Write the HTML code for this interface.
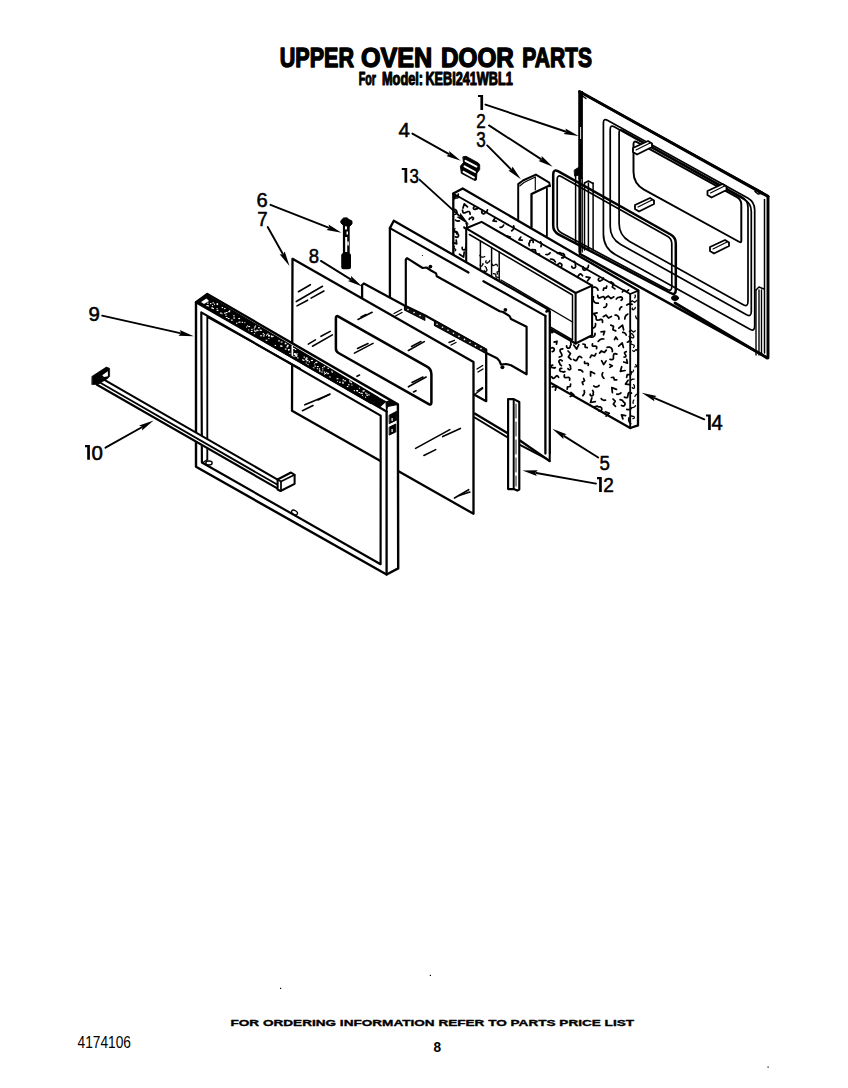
<!DOCTYPE html>
<html><head><meta charset="utf-8"><style>
html,body{margin:0;padding:0;background:#fff;}
body{width:848px;height:1088px;overflow:hidden;position:relative;}
svg{position:absolute;left:0;top:0;}
text{font-family:"Liberation Sans",sans-serif;fill:#000;}
</style></head><body>
<svg width="848" height="1088" viewBox="0 0 848 1088" stroke="#000" stroke-linecap="round" stroke-linejoin="round" fill="none">
<g id="p1">
<polygon points="580.0,92.0 768.0,196.0 768.0,358.0 580.0,254.0" fill="#fff" stroke="#000" stroke-width="2.53"/>
<rect x="578.3" y="91" width="4.6" height="88" fill="#000" stroke="none"/>
<rect x="580.2" y="127" width="0.9" height="12" fill="#fff" stroke="none"/>
<line x1="575.6" y1="170.0" x2="575.6" y2="243.0" stroke-width="1.49"/>
<line x1="579.3" y1="178.0" x2="579.3" y2="252.0" stroke-width="1.61"/>
<line x1="582.2" y1="178.0" x2="582.2" y2="252.0" stroke-width="1.38"/>
<polygon points="574.5,170.0 578.5,167.5 579.0,175.0 575.0,176.0" fill="#000" stroke="#000" stroke-width="0.92"/>
<line x1="579.5" y1="91.5" x2="768.0" y2="196.5" stroke-width="2.88"/>
<polyline points="582.5,96.0 586.0,98.5" stroke-width="1.38" fill="none"/>
<line x1="768.0" y1="196.5" x2="768.0" y2="358.0" stroke-width="2.53"/>
<line x1="764.5" y1="199.5" x2="764.5" y2="353.0" stroke-width="1.49"/>
<line x1="767.0" y1="358.0" x2="675.0" y2="303.0" stroke-width="2.76"/>
<polyline points="755.0,191.5 758.0,194.0 761.0,193.5" stroke-width="1.61" fill="none"/>
<path d="M603.4,123.0 Q603.4,118.0 607.8,120.4 L747.7,198.1 Q754.7,202.0 754.7,210.0 L754.7,326.0 Q754.7,332.0 749.5,329.1 L615.6,254.8 Q603.4,248.0 603.4,234.0 Z" stroke-width="1.72" fill="none"/>
<path d="M610.2,129.5 Q610.2,124.5 614.6,126.9 L744.3,199.6 Q751.3,203.5 751.3,211.5 L751.3,311.5 Q751.3,317.5 746.1,314.6 L620.7,244.4 Q610.2,238.5 610.2,226.5 Z" stroke-width="1.72" fill="none"/>
<path d="M619.1,132.5 Q619.1,128.5 622.6,130.5 L741.9,197.1 Q748.0,200.5 748.0,207.5 L748.0,301.5 Q748.0,307.5 742.8,304.6 L629.6,241.4 Q619.1,235.5 619.1,223.5 Z" stroke-width="1.72" fill="none"/>
<path d="M633.5,144.3 Q633.5,140.3 637.0,142.2 L736.9,197.1 Q741.3,199.5 741.3,204.5 L741.3,241.0 Q741.3,243.0 739.5,242.0 L644.0,189.6 Q633.5,183.8 633.5,171.8 Z" stroke-width="1.95" fill="none"/>
<polygon points="633.0,148.0 648.0,141.0 652.0,143.5 652.0,147.0 637.0,154.5 633.0,152.0" fill="#fff" stroke="#000" stroke-width="1.84"/>
<line x1="636.0" y1="150.0" x2="650.0" y2="143.0" stroke-width="1.15"/>
<polygon points="707.5,191.0 722.5,184.0 726.5,186.5 726.5,190.0 711.5,197.5 707.5,195.0" fill="#fff" stroke="#000" stroke-width="1.84"/>
<line x1="710.5" y1="193.0" x2="724.5" y2="186.0" stroke-width="1.15"/>
<polygon points="635.0,205.0 650.0,198.0 654.0,200.5 654.0,204.0 639.0,211.5 635.0,209.0" fill="#fff" stroke="#000" stroke-width="1.84"/>
<line x1="638.0" y1="207.0" x2="652.0" y2="200.0" stroke-width="1.15"/>
<polygon points="710.0,247.0 725.0,240.0 729.0,242.5 729.0,246.0 714.0,253.5 710.0,251.0" fill="#fff" stroke="#000" stroke-width="1.84"/>
<line x1="713.0" y1="249.0" x2="727.0" y2="242.0" stroke-width="1.15"/>
<line x1="584.5" y1="183.0" x2="584.5" y2="250.0" stroke-width="1.49"/>
<line x1="588.4" y1="183.0" x2="588.4" y2="250.0" stroke-width="1.49"/>
<line x1="593.1" y1="183.0" x2="593.1" y2="250.0" stroke-width="1.49"/>
<polyline points="584.5,183.0 588.4,181.0 593.1,183.5" stroke-width="1.49" fill="none"/>
<line x1="756.0" y1="290.0" x2="756.0" y2="355.0" stroke-width="1.38"/>
<line x1="759.0" y1="290.0" x2="759.0" y2="355.0" stroke-width="1.38"/>
<line x1="761.5" y1="290.0" x2="761.5" y2="355.0" stroke-width="1.38"/>
<polyline points="756.0,290.0 759.0,287.0 764.0,289.0" stroke-width="1.49" fill="none"/>
</g>
<g id="p2">
<path d="M553.2,174.5 Q553.2,168.5 558.4,171.4 L670.6,234.5 Q675.8,237.4 675.8,243.4 L675.8,289.8 Q675.8,295.8 670.5,293.0 L558.5,234.3 Q553.2,231.5 553.2,225.5 Z" stroke-width="2.53" fill="none"/>
<path d="M557.2,179.3 Q557.2,174.3 561.6,176.8 L667.4,236.3 Q671.8,238.8 671.8,243.8 L671.8,286.8 Q671.8,291.8 667.4,289.5 L561.6,233.1 Q557.2,230.8 557.2,225.8 Z" stroke-width="1.72" fill="none"/>
<ellipse cx="675" cy="298" rx="3.5" ry="2.5" fill="#000"/>
</g>
<polygon points="518.2,222.0 518.2,184.1 523.0,180.5 535.9,174.6 549.3,182.6 549.9,186.3 546.9,188.5 546.9,236.0 531.5,227.0 531.5,222.0" fill="#fff" stroke="none" stroke-width="0.00"/>
<polyline points="518.2,221.0 518.2,184.1 523.0,180.5 535.9,174.6 549.3,182.6 549.9,186.3" stroke-width="1.95" fill="none"/>
<polyline points="519.7,186.0 524.0,182.5 535.3,177.0" stroke-width="1.15" fill="none"/>
<line x1="535.3" y1="177.0" x2="535.3" y2="190.0" stroke-width="1.15"/>
<polyline points="531.5,227.0 531.5,194.0 549.5,185.5" stroke-width="2.30" fill="none"/>
<line x1="546.9" y1="188.5" x2="546.9" y2="236.0" stroke-width="1.84"/>
<polygon points="463.2,156.8 466.0,156.3 478.3,162.9 479.7,164.8 479.7,169.5 476.9,173.3 476.4,179.9 475.0,180.6 461.3,173.3 460.4,166.2 463.2,162.9" fill="#000" stroke="#000" stroke-width="0.92"/>
<line x1="465.5" y1="160.8" x2="476.5" y2="166.6" stroke="#fff" stroke-width="1.9"/>
<line x1="464.5" y1="166.3" x2="475" y2="172" stroke="#fff" stroke-width="1.9"/>
<line x1="463.5" y1="171.8" x2="474" y2="177.6" stroke="#fff" stroke-width="1.9"/>
<g id="p14">
<polygon points="453.3,193.6 462.7,188.5 638.4,290.6 638.0,425.4 630.2,428.0 456.2,329.3 453.3,327.6" fill="#fff" stroke="none" stroke-width="0.00"/>
<path d="M632.1,304.3 L630.2,303.8 L628.5,304.1 L626.8,305.1" stroke-width="1.72" fill="none"/>
<path d="M603.2,316.7 L606.1,315.1 L608.5,318.0 L611.4,316.5" stroke-width="1.72" fill="none"/>
<path d="M590.1,394.2 L590.5,395.4 L591.6,395.9 L592.7,395.6 L593.4,394.6 L593.1,393.4 L593.5,392.1 L592.6,390.4" stroke-width="1.72" fill="none"/>
<path d="M615.7,330.9 L612.9,329.7 L613.5,326.3 L610.8,325.1" stroke-width="1.72" fill="none"/>
<path d="M455.5,220.1 L456.7,220.9 L458.0,221.2 L459.4,220.9" stroke-width="1.72" fill="none"/>
<path d="M621.5,405.4 L622.9,406.1 L624.4,405.6 L625.1,404.2 L624.7,402.7 L623.4,401.9 L622.4,400.3 L620.1,399.7" stroke-width="1.72" fill="none"/>
<path d="M630.1,384.6 L625.5,384.1 L628.1,380.3" stroke-width="1.72" fill="none"/>
<path d="M627.8,314.1 L626.1,315.3 L625.1,316.9 L624.8,319.0" stroke-width="1.72" fill="none"/>
<path d="M614.5,339.6 L615.8,337.0 L617.5,339.4" stroke-width="1.72" fill="none"/>
<path d="M561.5,266.5 L561.9,265.0 L561.2,263.7 L559.8,263.1 L558.4,263.7 L557.8,265.1 L556.4,266.2 L556.2,268.6" stroke-width="1.72" fill="none"/>
<path d="M626.3,351.7 L625.2,352.0 L624.6,352.6 L624.6,353.4 L625.2,354.4 L625.8,355.4 L625.9,356.3 L625.3,356.8 L624.1,357.1" stroke-width="1.72" fill="none"/>
<path d="M597.7,295.4 L598.0,297.0 L598.6,297.9 L599.8,297.9 L601.2,297.3 L602.7,296.7 L603.8,296.7 L604.5,297.7 L604.7,299.2" stroke-width="1.72" fill="none"/>
<path d="M603.9,339.0 L601.6,338.9 L599.8,339.8 L598.2,341.4" stroke-width="1.72" fill="none"/>
<path d="M610.0,359.3 L611.7,359.7 L612.9,359.5 L613.4,358.4 L613.4,356.7 L613.5,355.0 L614.0,353.9 L615.2,353.7 L616.9,354.1" stroke-width="1.72" fill="none"/>
<path d="M606.6,303.8 L606.7,304.7 L606.5,305.6 L606.1,306.3 L605.5,307.0 L604.7,307.4 L603.8,307.5" stroke-width="1.72" fill="none"/>
<path d="M599.1,385.5 L598.3,386.2 L597.4,386.7 L596.5,386.9 L595.4,386.9 L594.5,386.5 L593.7,385.9" stroke-width="1.72" fill="none"/>
<path d="M482.4,210.5 L481.7,211.7 L482.0,213.0 L483.1,213.8 L484.4,213.6 L485.3,212.5 L486.7,211.9 L487.5,209.9" stroke-width="1.72" fill="none"/>
<path d="M522.2,240.1 L519.0,239.8 L520.8,237.1" stroke-width="1.72" fill="none"/>
<path d="M595.5,323.5 L595.6,324.8 L595.3,326.1 L594.6,327.2 L593.5,327.9 L592.2,328.3 L590.9,328.2" stroke-width="1.72" fill="none"/>
<path d="M605.3,411.8 L609.3,413.2 L606.1,416.1" stroke-width="1.72" fill="none"/>
<path d="M582.8,395.6 L584.0,394.1 L584.5,392.4 L584.2,390.5" stroke-width="1.72" fill="none"/>
<path d="M472.7,219.6 L473.4,218.9 L473.4,217.9 L472.7,217.3 L471.8,217.2 L471.1,217.8 L470.0,218.0 L469.2,219.3" stroke-width="1.72" fill="none"/>
<path d="M599.6,353.1 L601.4,350.9 L604.4,352.4 L606.3,350.1" stroke-width="1.72" fill="none"/>
<path d="M622.3,292.0 L624.1,290.2 L626.7,291.8 L628.6,289.9" stroke-width="1.72" fill="none"/>
<path d="M616.8,394.1 L618.3,394.3 L619.7,393.8 L620.9,392.8" stroke-width="1.72" fill="none"/>
<path d="M601.1,331.9 L604.7,331.3 L603.5,334.8" stroke-width="1.72" fill="none"/>
<path d="M581.7,357.7 L580.4,356.6 L579.3,356.3 L578.3,357.1 L577.6,358.5 L576.8,360.0 L575.9,360.7 L574.8,360.4 L573.5,359.4" stroke-width="1.72" fill="none"/>
<path d="M603.3,290.2 L603.8,288.2 L606.2,288.2 L606.7,286.2" stroke-width="1.72" fill="none"/>
<path d="M615.5,406.4 L613.3,404.2 L615.2,401.2 L613.0,399.0" stroke-width="1.72" fill="none"/>
<path d="M540.9,246.6 L541.5,245.0 L541.4,243.3 L540.6,241.8" stroke-width="1.72" fill="none"/>
<path d="M545.9,254.5 L547.5,254.6 L548.9,254.0 L550.1,252.9" stroke-width="1.72" fill="none"/>
<path d="M590.6,376.0 L590.6,371.5 L594.6,373.6" stroke-width="1.72" fill="none"/>
<path d="M587.3,347.7 L585.1,347.1 L585.1,344.5 L582.9,344.0" stroke-width="1.72" fill="none"/>
<path d="M607.1,347.4 L608.5,347.0 L609.8,347.2 L611.0,347.8 L611.9,348.9 L612.4,350.2 L612.3,351.6" stroke-width="1.72" fill="none"/>
<path d="M566.6,345.8 L566.7,347.2 L567.7,348.2 L569.1,348.2 L570.1,347.3 L570.2,345.9 L571.1,344.6 L570.7,342.4" stroke-width="1.72" fill="none"/>
<path d="M582.8,371.9 L581.7,370.6 L580.4,369.9 L578.7,369.8" stroke-width="1.72" fill="none"/>
<path d="M464.0,227.0 L464.4,228.1 L465.4,228.6 L466.4,228.3 L467.0,227.3 L466.7,226.2 L467.1,225.0 L466.2,223.5" stroke-width="1.72" fill="none"/>
<path d="M586.1,276.9 L590.0,277.7 L587.5,280.8" stroke-width="1.72" fill="none"/>
<path d="M604.0,378.3 L603.2,377.6 L602.6,376.7 L602.2,375.7 L602.1,374.7 L602.3,373.6 L602.8,372.7" stroke-width="1.72" fill="none"/>
<path d="M456.2,240.0 L456.7,243.9 L452.9,242.5" stroke-width="1.72" fill="none"/>
<path d="M622.7,332.3 L623.4,332.4 L624.2,332.7 L624.9,333.1 L625.4,333.7 L625.9,334.3 L626.2,335.0" stroke-width="1.72" fill="none"/>
<path d="M582.5,275.8 L581.5,274.5 L580.6,273.9 L579.5,274.4 L578.5,275.6 L577.4,276.8 L576.4,277.3 L575.4,276.7 L574.5,275.4" stroke-width="1.72" fill="none"/>
<path d="M578.8,344.6 L576.6,349.0 L573.7,345.1" stroke-width="1.72" fill="none"/>
<path d="M609.7,364.4 L612.3,365.8 L609.8,367.4" stroke-width="1.72" fill="none"/>
<path d="M621.1,300.3 L622.2,299.5 L622.4,298.2 L621.7,297.1 L620.4,296.8 L619.2,297.4 L617.7,297.5 L616.3,299.0" stroke-width="1.72" fill="none"/>
<path d="M552.7,365.1 L551.7,365.3 L551.1,366.0 L551.2,367.0 L551.9,367.7 L552.9,367.6 L553.9,368.1 L555.3,367.6" stroke-width="1.72" fill="none"/>
<path d="M615.1,315.1 L616.2,315.1 L617.2,315.5 L618.0,316.2 L618.6,317.1 L619.0,318.2 L618.9,319.2" stroke-width="1.72" fill="none"/>
<path d="M595.9,316.4 L593.6,313.7 L597.1,312.9" stroke-width="1.72" fill="none"/>
<path d="M622.9,418.9 L621.5,414.9 L625.6,415.6" stroke-width="1.72" fill="none"/>
<path d="M454.4,209.3 L455.1,209.5 L455.7,209.8 L456.2,210.3 L456.6,210.9 L456.8,211.5 L456.8,212.2" stroke-width="1.72" fill="none"/>
<path d="M612.4,392.6 L611.8,387.6 L616.5,389.4" stroke-width="1.72" fill="none"/>
<path d="M599.1,411.1 L600.8,410.9 L601.8,409.6 L601.6,407.9 L600.4,406.9 L598.7,406.9 L597.1,406.1 L594.6,406.9" stroke-width="1.72" fill="none"/>
<path d="M474.4,206.7 L473.6,207.4 L473.4,208.4 L474.0,209.2 L475.1,209.4 L475.9,208.9 L477.1,208.8 L478.2,207.6" stroke-width="1.72" fill="none"/>
<path d="M496.5,221.4 L493.0,220.9 L495.1,218.0" stroke-width="1.72" fill="none"/>
<path d="M606.1,360.9 L603.7,364.6 L601.6,360.7" stroke-width="1.72" fill="none"/>
<path d="M552.2,351.6 L553.6,351.2 L554.3,349.9 L554.0,348.5 L552.8,347.7 L551.4,348.0 L549.8,347.5 L547.8,348.5" stroke-width="1.72" fill="none"/>
<path d="M571.7,266.3 L572.3,267.7 L573.7,268.2 L575.1,267.7 L575.7,266.4 L575.3,264.9 L575.6,263.3 L574.2,261.3" stroke-width="1.72" fill="none"/>
<path d="M588.2,365.4 L588.4,364.3 L588.2,363.6 L587.5,363.4 L586.4,363.4 L585.4,363.5 L584.7,363.3 L584.5,362.6 L584.6,361.5" stroke-width="1.72" fill="none"/>
<path d="M568.0,368.6 L568.5,369.5 L569.5,369.8 L570.5,369.3 L570.8,368.3 L570.4,367.3 L570.5,366.1 L569.5,364.8" stroke-width="1.72" fill="none"/>
<path d="M533.2,242.5 L533.2,241.2 L532.3,240.2 L530.9,240.1 L529.9,241.0 L529.8,242.3 L528.9,243.6 L529.3,245.7" stroke-width="1.72" fill="none"/>
<path d="M555.0,330.6 L551.9,332.7 L551.4,329.0" stroke-width="1.72" fill="none"/>
<path d="M601.2,398.6 L602.4,399.8 L603.8,400.3 L605.5,400.1" stroke-width="1.72" fill="none"/>
<path d="M583.6,378.5 L584.5,380.7 L582.2,382.3 L583.1,384.5" stroke-width="1.72" fill="none"/>
<path d="M500.1,227.4 L501.6,227.2 L502.8,226.4 L503.6,225.1" stroke-width="1.72" fill="none"/>
<path d="M569.6,380.1 L569.7,378.6 L569.4,377.7 L568.4,377.3 L567.0,377.5 L565.5,377.7 L564.5,377.3 L564.2,376.4 L564.4,374.9" stroke-width="1.72" fill="none"/>
<path d="M464.2,252.1 L463.6,257.1 L459.5,254.2" stroke-width="1.72" fill="none"/>
<path d="M631.4,371.9 L630.6,374.7 L627.3,374.5 L626.6,377.3" stroke-width="1.72" fill="none"/>
<path d="M554.1,342.1 L557.0,341.2 L556.5,344.2" stroke-width="1.72" fill="none"/>
<path d="M618.7,346.2 L622.2,342.9 L623.4,347.5" stroke-width="1.72" fill="none"/>
<path d="M455.3,236.8 L456.6,237.4 L458.0,236.9 L458.6,235.6 L458.2,234.2 L456.9,233.5 L456.0,232.1 L453.8,231.6" stroke-width="1.72" fill="none"/>
<path d="M561.7,257.9 L563.4,257.8 L564.5,256.5 L564.4,254.9 L563.3,253.7 L561.6,253.6 L560.0,252.7 L557.5,253.3" stroke-width="1.72" fill="none"/>
<path d="M562.8,348.8 L561.0,349.2 L560.1,350.0 L560.1,351.3 L561.0,352.9 L561.8,354.5 L561.9,355.7 L560.9,356.5 L559.2,357.0" stroke-width="1.72" fill="none"/>
<path d="M558.6,377.4 L557.9,376.2 L557.1,375.7 L556.2,376.1 L555.2,377.1 L554.2,378.0 L553.3,378.4 L552.5,377.9 L551.7,376.7" stroke-width="1.72" fill="none"/>
<path d="M595.0,333.4 L595.0,334.7 L594.4,335.9 L593.4,336.7 L592.1,337.2 L590.8,337.1 L589.6,336.5" stroke-width="1.72" fill="none"/>
<path d="M616.7,379.8 L614.4,379.9 L613.7,377.4 L611.4,377.5" stroke-width="1.72" fill="none"/>
<path d="M591.4,288.4 L592.5,287.5 L593.9,287.1 L595.2,287.2 L596.5,287.8 L597.5,288.8 L598.0,290.1" stroke-width="1.72" fill="none"/>
<path d="M506.5,235.9 L510.3,237.0 L507.5,239.8" stroke-width="1.72" fill="none"/>
<path d="M590.2,357.6 L591.5,355.2 L594.6,356.0 L595.9,353.6" stroke-width="1.72" fill="none"/>
<path d="M463.0,208.1 L464.3,203.8 L467.5,206.9" stroke-width="1.72" fill="none"/>
<path d="M626.7,359.3 L627.4,363.1 L623.7,362.0" stroke-width="1.72" fill="none"/>
<path d="M513.7,225.9 L513.9,226.9 L513.8,227.8 L513.6,228.7 L513.1,229.5 L512.5,230.2 L511.7,230.8" stroke-width="1.72" fill="none"/>
<path d="M552.3,386.9 L556.5,386.0 L555.3,390.2" stroke-width="1.72" fill="none"/>
<path d="M598.3,303.2 L596.7,303.2 L595.1,302.6 L593.9,301.5 L593.2,300.0 L593.1,298.3 L593.5,296.8" stroke-width="1.72" fill="none"/>
<path d="M595.3,401.6 L590.5,402.5 L591.9,397.8" stroke-width="1.72" fill="none"/>
<path d="M567.2,389.2 L567.5,386.8 L570.3,386.5 L570.6,384.1" stroke-width="1.72" fill="none"/>
<path d="M629.0,417.8 L628.7,420.0 L629.3,422.0 L630.7,423.7" stroke-width="1.72" fill="none"/>
<path d="M570.9,392.5 L573.9,395.0 L570.2,396.5" stroke-width="1.72" fill="none"/>
<path d="M625.1,370.5 L620.3,371.4 L621.7,366.7" stroke-width="1.72" fill="none"/>
<path d="M599.0,278.3 L598.3,279.2 L598.5,280.4 L599.4,281.1 L600.6,281.0 L601.4,280.2 L602.6,279.7 L603.4,278.0" stroke-width="1.72" fill="none"/>
<path d="M571.0,359.4 L568.4,357.0 L570.5,353.5 L568.0,351.0" stroke-width="1.72" fill="none"/>
<path d="M583.2,266.9 L582.7,268.3 L583.2,269.7 L584.6,270.3 L586.0,269.8 L586.7,268.5 L588.1,267.6 L588.5,265.3" stroke-width="1.72" fill="none"/>
<path d="M621.8,306.8 L620.6,307.5 L619.9,308.5 L619.6,309.8" stroke-width="1.72" fill="none"/>
<path d="M454.6,198.7 L455.1,196.4 L457.8,196.5 L458.3,194.2" stroke-width="1.72" fill="none"/>
<path d="M624.4,397.1 L625.9,397.7 L627.1,397.7 L627.7,396.7 L628.0,395.1 L628.2,393.5 L628.9,392.6 L630.0,392.5 L631.5,393.1" stroke-width="1.72" fill="none"/>
<path d="M614.9,288.9 L612.3,287.1 L613.6,283.6 L610.9,281.8" stroke-width="1.72" fill="none"/>
<path d="M613.8,296.8 L611.0,298.6 L608.3,296.0 L605.6,297.8" stroke-width="1.72" fill="none"/>
<path d="M618.8,328.2 L622.5,325.1 L623.6,329.8" stroke-width="1.72" fill="none"/>
<path d="M596.5,348.7 L596.7,347.5 L596.6,346.6 L595.7,346.2 L594.5,346.2 L593.2,346.2 L592.4,345.9 L592.3,345.0 L592.5,343.8" stroke-width="1.72" fill="none"/>
<path d="M562.2,360.9 L561.3,360.0 L560.1,359.9 L559.1,360.7 L558.9,361.9 L559.7,363.0 L559.9,364.4 L561.4,365.6" stroke-width="1.72" fill="none"/>
<path d="M470.2,214.2 L469.8,212.5 L469.1,211.5 L467.9,211.5 L466.3,212.2 L464.7,212.9 L463.5,212.9 L462.8,211.9 L462.5,210.2" stroke-width="1.72" fill="none"/>
<path d="M462.2,247.4 L462.2,248.8 L463.2,249.8 L464.6,249.8 L465.6,248.9 L465.8,247.5 L466.6,246.2 L466.2,244.1" stroke-width="1.72" fill="none"/>
<path d="M539.5,254.2 L536.0,254.0 L535.3,249.9 L531.8,249.7" stroke-width="1.72" fill="none"/>
<path d="M596.1,317.2 L596.1,318.9 L596.6,319.9 L597.7,320.1 L599.3,319.8 L600.9,319.4 L602.0,319.7 L602.5,320.7 L602.5,322.3" stroke-width="1.72" fill="none"/>
<path d="M555.4,261.9 L554.2,260.2 L552.5,259.3 L550.5,259.0" stroke-width="1.72" fill="none"/>
<path d="M561.7,368.3 L560.5,368.4 L559.7,369.4 L559.7,370.6 L560.6,371.4 L561.8,371.5 L563.0,372.1 L564.9,371.6" stroke-width="1.72" fill="none"/>
<path d="M631.4,408.1 L630.8,408.7 L630.1,409.2 L629.3,409.5 L628.5,409.7 L627.6,409.6 L626.8,409.4" stroke-width="1.72" fill="none"/>
<path d="M629.2,336.4 L629.8,337.4 L630.1,338.6 L629.9,339.8 L629.4,340.8 L628.5,341.7 L627.4,342.1" stroke-width="1.72" fill="none"/>
<path d="M631.5,341.5 L630.8,342.6 L630.7,343.5 L631.3,344.1 L632.5,344.5 L633.7,345.0 L634.3,345.6 L634.2,346.5 L633.5,347.5" stroke-width="1.26" fill="none"/>
<path d="M631.4,337.3 L632.2,337.9 L633.2,337.8 L633.8,337.0 L633.7,336.0 L633.0,335.3 L632.6,334.2 L631.1,333.6" stroke-width="1.26" fill="none"/>
<path d="M632.3,387.5 L632.7,388.2 L633.5,388.5 L634.3,388.1 L634.6,387.3 L634.3,386.6 L634.4,385.6 L633.6,384.6" stroke-width="1.26" fill="none"/>
<path d="M633.9,400.0 L633.2,401.0 L633.0,402.1 L633.2,403.3" stroke-width="1.26" fill="none"/>
<path d="M633.5,370.1 L633.4,370.7 L633.2,371.2 L632.9,371.7 L632.5,372.0 L632.0,372.3 L631.5,372.5" stroke-width="1.26" fill="none"/>
<path d="M637.8,394.0 L636.5,394.4 L635.5,395.2 L634.9,396.5" stroke-width="1.26" fill="none"/>
<path d="M632.7,350.5 L633.2,351.2 L633.8,351.5 L634.3,351.3 L634.9,350.6 L635.5,349.9 L636.1,349.6 L636.6,349.9 L637.2,350.7" stroke-width="1.26" fill="none"/>
<path d="M637.8,319.3 L637.2,319.0 L636.6,318.5 L636.2,318.0 L635.9,317.3 L635.7,316.6 L635.7,315.9" stroke-width="1.26" fill="none"/>
<path d="M635.4,330.8 L633.4,332.1 L631.3,330.2 L629.3,331.6" stroke-width="1.26" fill="none"/>
<path d="M632.9,418.7 L633.8,418.5 L634.3,417.8 L634.2,416.9 L633.5,416.3 L632.6,416.3 L631.7,415.9 L630.3,416.4" stroke-width="1.26" fill="none"/>
<path d="M630.2,302.5 L632.2,300.7 L634.8,302.4 L636.7,300.5" stroke-width="1.26" fill="none"/>
<path d="M634.7,297.9 L635.2,296.9 L635.4,296.0 L635.1,295.0" stroke-width="1.26" fill="none"/>
<path d="M635.7,364.6 L637.0,366.6 L634.7,366.8" stroke-width="1.26" fill="none"/>
<path d="M632.5,308.0 L632.1,308.6 L632.3,309.4 L633.0,309.8 L633.8,309.6 L634.2,309.0 L635.0,308.6 L635.3,307.4" stroke-width="1.26" fill="none"/>
<path d="M635.5,405.7 L635.1,406.3 L634.6,406.8 L634.0,407.2 L633.3,407.5 L632.6,407.6 L631.9,407.5" stroke-width="1.26" fill="none"/>
<path d="M634.2,379.1 L632.8,379.1 L631.7,379.6 L630.7,380.7" stroke-width="1.26" fill="none"/>
<path d="M455.0,250.8 L455.6,250.2 L455.8,249.7 L455.4,249.2 L454.7,248.7 L454.0,248.2 L453.6,247.7 L453.9,247.2 L454.5,246.6" stroke-width="1.26" fill="none"/>
<path d="M454.5,214.5 L455.7,214.3 L456.6,213.6 L457.1,212.5" stroke-width="1.26" fill="none"/>
<path d="M455.6,195.3 L454.7,195.7 L454.3,196.7 L454.6,197.7 L455.6,198.1 L456.6,197.8 L457.7,198.1 L459.1,197.1" stroke-width="1.26" fill="none"/>
<path d="M456.9,234.2 L457.6,233.2 L457.7,232.4 L457.1,231.8 L456.0,231.3 L454.9,230.9 L454.3,230.3 L454.4,229.5 L455.1,228.5" stroke-width="1.26" fill="none"/>
<polyline points="453.3,193.6 462.7,188.5 638.4,290.6 638.0,425.4 630.2,428.0" stroke-width="2.30" fill="none"/>
<polyline points="453.3,193.6 456.2,195.3 630.2,294.0 630.2,428.0" stroke-width="1.84" fill="none"/>
<line x1="453.3" y1="193.6" x2="453.3" y2="300.0" stroke-width="2.30"/>
<line x1="630.2" y1="294.0" x2="638.4" y2="290.6" stroke-width="1.72"/>
<line x1="630.2" y1="428.0" x2="466.2" y2="335.0" stroke-width="2.30"/>
<polygon points="466.2,228.3 481.6,221.9 592.1,285.6 592.1,335.3 575.6,343.5 466.2,279.0" fill="#fff" stroke="none" stroke-width="0.00"/>
<polygon points="466.2,228.3 481.6,221.9 592.1,285.6 575.6,293.0 466.2,228.3" stroke-width="2.07" fill="none"/>
<polyline points="575.6,293.0 575.6,343.5 592.1,335.3 592.1,285.6" stroke-width="2.07" fill="none"/>
<line x1="466.2" y1="228.3" x2="466.2" y2="285.0" stroke-width="2.07"/>
<line x1="575.6" y1="343.5" x2="466.2" y2="281.2" stroke-width="2.07"/>
<polyline points="469.4,234.5 572.5,295.0 572.5,340.0 469.4,280.0" stroke-width="1.49" fill="none"/>
<line x1="480.4" y1="241.0" x2="480.4" y2="286.0" stroke-width="1.49"/>
<line x1="491.6" y1="247.5" x2="491.6" y2="292.5" stroke-width="1.49"/>
<line x1="499.2" y1="252.0" x2="499.2" y2="297.0" stroke-width="1.49"/>
<path d="M484.1,270.4 L484.8,271.3 L485.9,271.4 L486.8,270.8 L487.0,269.7 L486.4,268.8 L486.3,267.6 L485.0,266.4" stroke-width="1.26" fill="none"/>
<path d="M481.9,281.2 L481.5,282.1 L481.8,283.1 L482.7,283.6 L483.7,283.4 L484.3,282.5 L485.3,281.9 L485.8,280.3" stroke-width="1.26" fill="none"/>
<path d="M484.7,256.5 L483.9,257.0 L482.9,257.2 L481.9,257.2 L481.0,256.8 L480.3,256.1 L479.8,255.3" stroke-width="1.26" fill="none"/>
<path d="M486.2,260.7 L485.7,261.5 L485.8,262.5 L486.6,263.1 L487.6,263.0 L488.2,262.2 L489.2,261.8 L489.8,260.5" stroke-width="1.26" fill="none"/>
<path d="M480.4,264.6 L480.3,265.4 L480.7,266.0 L481.4,266.2 L482.1,265.8 L482.3,265.1 L482.9,264.6 L483.0,263.4" stroke-width="1.26" fill="none"/>
<path d="M496.7,278.1 L496.6,279.9 L494.5,280.2 L494.5,282.1" stroke-width="1.26" fill="none"/>
<path d="M497.5,274.2 L497.0,272.1 L499.3,271.0 L498.9,268.9" stroke-width="1.26" fill="none"/>
<path d="M498.3,277.4 L495.9,276.9 L495.8,274.1 L493.4,273.6" stroke-width="1.26" fill="none"/>
<path d="M492.0,263.9 L492.4,265.0 L492.9,265.6 L493.7,265.5 L494.7,265.0 L495.7,264.4 L496.5,264.3 L497.1,264.9 L497.4,266.0" stroke-width="1.26" fill="none"/>
<line x1="501.0" y1="280.0" x2="572.5" y2="322.0" stroke-width="1.38"/>
</g>
<g id="p5">
<polygon points="389.9,228.1 393.8,220.7 548.5,309.5 549.8,312.0 549.8,453.0 549.6,461.0 545.4,453.5 389.9,364.5" fill="#fff" stroke="none" stroke-width="0.00"/>
<polyline points="389.9,364.5 389.9,228.1 393.8,220.7 548.5,309.5" stroke-width="2.30" fill="none"/>
<line x1="389.9" y1="228.1" x2="468.5" y2="272.5" stroke-width="2.18"/>
<line x1="483.4" y1="281.2" x2="545.4" y2="315.9" stroke-width="2.18"/>
<line x1="545.4" y1="315.9" x2="545.4" y2="453.5" stroke-width="2.30"/>
<line x1="549.8" y1="312.0" x2="549.8" y2="453.0" stroke-width="2.30"/>
<polyline points="546.5,311.5 548.5,309.5 549.8,312.0" stroke-width="2.53" fill="none"/>
<polyline points="474.7,413.6 519.9,440.5 549.6,461.0" stroke-width="2.30" fill="none"/>
<polyline points="474.7,417.5 519.9,444.8 545.4,458.2" stroke-width="1.95" fill="none"/>
<polyline points="549.8,453.0 549.6,461.0" stroke-width="2.07" fill="none"/>
<polyline points="405.8,305.5 405.8,259.5 407.0,258.2 422.6,268.0 426.5,267.5 431.0,270.5 436.1,273.4 436.8,276.2 499.7,311.2 503.0,312.0 509.6,316.1 511.0,319.0 526.6,326.8 526.6,374.3 511.0,365.2 506.0,364.0 501.0,364.5 499.5,361.0 497.0,358.3 486.9,353.3" stroke-width="2.18" fill="none"/>
<circle cx="430.4" cy="266.6" r="1.9" fill="#000" stroke="none"/>
<circle cx="505.4" cy="309.8" r="1.9" fill="#000" stroke="none"/>
<circle cx="502.4" cy="367.2" r="2.0" fill="#000" stroke="none"/>
<circle cx="422.5" cy="255.5" r="0.6" fill="#000" stroke="none"/>
</g>
<polygon points="508.1,399.1 513.7,399.1 519.3,402.0 519.3,489.5 517.2,490.6 513.7,489.1 508.1,489.1" fill="#fff" stroke="none" stroke-width="0.00"/>
<polygon points="508.1,489.1 508.1,399.1 513.7,399.1 519.3,402.0 519.3,489.5 517.2,490.6 513.7,489.1 508.1,489.1" stroke-width="2.18" fill="none"/>
<line x1="513.7" y1="399.5" x2="513.7" y2="489.0" stroke-width="1.95"/>
<line x1="516" y1="404" x2="516" y2="486" stroke-width="0.9" stroke-dasharray="14,4"/>
<polygon points="362.1,284.0 363.5,283.3 486.2,349.8 486.2,401.2 474.0,394.5 362.1,300.0" fill="#fff" stroke="none" stroke-width="0.00"/>
<polyline points="362.1,298.5 362.1,285.0 363.8,283.5 404.0,305.2 424.8,315.2 486.2,349.8 486.2,401.2 474.0,394.5" stroke-width="2.30" fill="none"/>
<polygon points="404.5,305.5 424.8,315.5 424.8,320.3 404.5,310.0" fill="#111" stroke="#000" stroke-width="1.15"/>
<polygon points="434.5,320.5 486.0,349.0 486.0,353.5 434.5,325.5" fill="#111" stroke="#000" stroke-width="1.15"/>
<circle cx="437.0" cy="324.2" r="0.8" fill="#fff" stroke="none"/>
<circle cx="442.5" cy="327.2" r="0.8" fill="#fff" stroke="none"/>
<circle cx="448.0" cy="330.3" r="0.8" fill="#fff" stroke="none"/>
<circle cx="453.5" cy="333.3" r="0.8" fill="#fff" stroke="none"/>
<circle cx="459.0" cy="336.4" r="0.8" fill="#fff" stroke="none"/>
<circle cx="464.5" cy="339.4" r="0.8" fill="#fff" stroke="none"/>
<circle cx="470.0" cy="342.5" r="0.8" fill="#fff" stroke="none"/>
<circle cx="475.5" cy="345.6" r="0.8" fill="#fff" stroke="none"/>
<circle cx="481.0" cy="348.6" r="0.8" fill="#fff" stroke="none"/>
<circle cx="408.0" cy="309.6" r="0.8" fill="#fff" stroke="none"/>
<circle cx="414.0" cy="312.6" r="0.8" fill="#fff" stroke="none"/>
<circle cx="420.0" cy="315.6" r="0.8" fill="#fff" stroke="none"/>
<line x1="394.0" y1="313.5" x2="401.5" y2="309.5" stroke-width="1.38"/>
<line x1="395.5" y1="316.0" x2="402.0" y2="312.5" stroke-width="1.38"/>
<line x1="449.0" y1="342.5" x2="454.4" y2="340.3" stroke-width="1.38"/>
<line x1="451.0" y1="345.0" x2="456.0" y2="342.5" stroke-width="1.38"/>
<line x1="477.0" y1="369.0" x2="482.7" y2="365.5" stroke-width="1.38"/>
<line x1="478.0" y1="372.0" x2="483.0" y2="369.0" stroke-width="1.38"/>
<line x1="475.6" y1="393.8" x2="482.7" y2="388.5" stroke-width="1.38"/>
<line x1="477.0" y1="391.0" x2="482.5" y2="387.6" stroke-width="1.38"/>
<polygon points="292.5,258.8 473.5,362.0 473.5,513.8 292.0,410.7" fill="#fff" stroke="none" stroke-width="0.00"/>
<polygon points="292.0,410.7 292.5,258.8 473.5,362.0 473.5,513.8 292.0,410.7" stroke-width="2.30" fill="none"/>
<path d="M335.9,318.1 Q335.9,315.1 338.5,316.6 L427.0,366.7 Q431.4,369.2 431.4,374.2 L431.4,402.6 Q431.4,405.6 428.8,404.1 L338.5,353.0 Q335.9,351.5 335.9,348.5 Z" stroke-width="2.53" fill="none"/>
<line x1="298.4" y1="291.7" x2="310.4" y2="284.7" stroke-width="1.61"/>
<line x1="296.3" y1="301.5" x2="322.5" y2="286.3" stroke-width="1.61"/>
<line x1="297.0" y1="305.9" x2="307.6" y2="300.2" stroke-width="1.61"/>
<line x1="311.1" y1="298.1" x2="323.9" y2="291.0" stroke-width="1.61"/>
<line x1="308.3" y1="344.1" x2="315.4" y2="339.9" stroke-width="1.61"/>
<line x1="312.5" y1="346.2" x2="332.4" y2="334.9" stroke-width="1.61"/>
<line x1="321.0" y1="336.3" x2="330.2" y2="331.4" stroke-width="1.61"/>
<line x1="358.0" y1="319.5" x2="372.1" y2="312.3" stroke-width="1.61"/>
<line x1="361.0" y1="317.0" x2="366.0" y2="314.5" stroke-width="1.61"/>
<line x1="354.4" y1="353.1" x2="373.0" y2="343.4" stroke-width="1.61"/>
<line x1="357.5" y1="348.5" x2="368.0" y2="343.5" stroke-width="1.61"/>
<line x1="408.4" y1="350.5" x2="424.3" y2="341.6" stroke-width="1.61"/>
<line x1="411.5" y1="346.5" x2="421.0" y2="341.5" stroke-width="1.61"/>
<line x1="408.4" y1="386.8" x2="426.1" y2="377.0" stroke-width="1.61"/>
<line x1="412.0" y1="382.5" x2="423.0" y2="377.0" stroke-width="1.61"/>
<line x1="413.5" y1="392.0" x2="416.0" y2="390.7" stroke-width="1.61"/>
<line x1="357.0" y1="376.3" x2="359.5" y2="375.0" stroke-width="1.61"/>
<line x1="302.4" y1="410.7" x2="313.0" y2="405.5" stroke-width="1.61"/>
<line x1="304.8" y1="404.8" x2="329.5" y2="394.6" stroke-width="1.61"/>
<line x1="318.0" y1="400.0" x2="330.0" y2="394.0" stroke-width="1.61"/>
<line x1="415.6" y1="448.4" x2="449.8" y2="429.6" stroke-width="1.61"/>
<line x1="423.9" y1="455.5" x2="435.7" y2="449.6" stroke-width="1.61"/>
<line x1="442.7" y1="436.6" x2="460.4" y2="428.4" stroke-width="1.61"/>
<line x1="454.5" y1="498.0" x2="468.7" y2="489.7" stroke-width="1.61"/>
<line x1="459.2" y1="495.6" x2="469.9" y2="492.1" stroke-width="1.61"/>
<rect x="342.9" y="223" width="6.8" height="31" fill="#000" stroke="none"/>
<rect x="345" y="225.5" width="2" height="4" fill="#fff" stroke="none"/>
<rect x="346.5" y="231.5" width="1.5" height="3" fill="#fff" stroke="none"/>
<rect x="345.2" y="237" width="2" height="15" fill="#fff" stroke="none"/>
<rect x="347.3" y="241.5" width="1.5" height="4" fill="#fff" stroke="none"/>
<polygon points="341.0,220.5 343.5,218.0 347.0,217.8 349.0,219.5 352.0,221.0 352.0,224.0 349.5,226.5 343.5,225.5 341.0,223.0" fill="#000" stroke="#000" stroke-width="0.92"/>
<rect x="341.2" y="253" width="9.8" height="16.3" rx="2.5" fill="#000" stroke="none"/>
<path d="M196,302.2 L207.3,294.0 L397.9,404.4 L398.2,568.4 L386.6,574.5 L196,466.8 Z M201.3,312.4 L201.9,462.5 L380.6,564.2 L380.7,415.6 Z" fill="#fff" fill-rule="evenodd" stroke="none"/>
<polygon points="197.5,302.5 207.3,295.5 378.5,397.5 371.0,403.5" fill="#000" stroke="#000" stroke-width="1.38"/>
<polygon points="386.6,411.5 387.5,406.5 397.9,404.4 390.0,400.5 386.0,402.0" fill="#000" stroke="#000" stroke-width="1.15"/>
<polygon points="378.0,397.5 385.5,401.5 380.0,406.5 373.0,403.5" fill="#000" stroke="#000" stroke-width="1.15"/>
<rect x="310.9" y="360.0" width="1.8" height="1.1" fill="#fff" stroke="none"/>
<rect x="363.0" y="390.3" width="1.8" height="1.1" fill="#fff" stroke="none"/>
<rect x="212.1" y="305.0" width="1.0" height="1.1" fill="#fff" stroke="none"/>
<rect x="316.2" y="361.7" width="1.0" height="1.1" fill="#fff" stroke="none"/>
<rect x="270.8" y="335.5" width="1.4" height="1.1" fill="#fff" stroke="none"/>
<rect x="296.8" y="353.3" width="1.0" height="1.1" fill="#fff" stroke="none"/>
<rect x="326.2" y="371.9" width="1.0" height="1.1" fill="#fff" stroke="none"/>
<rect x="358.9" y="387.7" width="1.0" height="1.1" fill="#fff" stroke="none"/>
<rect x="328.9" y="376.5" width="1.8" height="1.1" fill="#fff" stroke="none"/>
<rect x="305.7" y="362.5" width="1.0" height="1.1" fill="#fff" stroke="none"/>
<rect x="362.8" y="396.8" width="1.0" height="1.1" fill="#fff" stroke="none"/>
<rect x="361.9" y="394.8" width="1.0" height="1.1" fill="#fff" stroke="none"/>
<rect x="258.0" y="327.2" width="1.8" height="1.1" fill="#fff" stroke="none"/>
<rect x="351.4" y="384.6" width="1.0" height="1.1" fill="#fff" stroke="none"/>
<rect x="362.4" y="390.4" width="1.4" height="1.1" fill="#fff" stroke="none"/>
<rect x="255.4" y="331.1" width="1.0" height="1.1" fill="#fff" stroke="none"/>
<rect x="358.6" y="392.0" width="1.4" height="1.1" fill="#fff" stroke="none"/>
<rect x="257.5" y="330.1" width="1.0" height="1.1" fill="#fff" stroke="none"/>
<rect x="306.2" y="357.6" width="1.0" height="1.1" fill="#fff" stroke="none"/>
<rect x="260.3" y="329.9" width="1.4" height="1.1" fill="#fff" stroke="none"/>
<rect x="319.0" y="369.7" width="1.4" height="1.1" fill="#fff" stroke="none"/>
<rect x="319.5" y="371.1" width="1.0" height="1.1" fill="#fff" stroke="none"/>
<rect x="361.4" y="392.8" width="1.4" height="1.1" fill="#fff" stroke="none"/>
<rect x="212.5" y="302.3" width="1.4" height="1.1" fill="#fff" stroke="none"/>
<rect x="271.3" y="336.1" width="1.4" height="1.1" fill="#fff" stroke="none"/>
<rect x="213.0" y="308.0" width="1.0" height="1.1" fill="#fff" stroke="none"/>
<rect x="225.3" y="314.6" width="1.4" height="1.1" fill="#fff" stroke="none"/>
<rect x="262.8" y="335.4" width="1.8" height="1.1" fill="#fff" stroke="none"/>
<rect x="248.3" y="326.0" width="1.8" height="1.1" fill="#fff" stroke="none"/>
<rect x="331.7" y="371.6" width="1.4" height="1.1" fill="#fff" stroke="none"/>
<rect x="216.6" y="303.3" width="1.0" height="1.1" fill="#fff" stroke="none"/>
<rect x="241.7" y="321.8" width="1.4" height="1.1" fill="#fff" stroke="none"/>
<rect x="356.2" y="390.0" width="1.8" height="1.1" fill="#fff" stroke="none"/>
<rect x="295.2" y="354.7" width="1.4" height="1.1" fill="#fff" stroke="none"/>
<rect x="259.6" y="329.6" width="1.8" height="1.1" fill="#fff" stroke="none"/>
<rect x="233.2" y="315.2" width="1.4" height="1.1" fill="#fff" stroke="none"/>
<rect x="230.9" y="319.6" width="1.8" height="1.1" fill="#fff" stroke="none"/>
<rect x="294.0" y="353.1" width="1.0" height="1.1" fill="#fff" stroke="none"/>
<rect x="327.3" y="373.1" width="1.4" height="1.1" fill="#fff" stroke="none"/>
<rect x="281.4" y="345.7" width="1.0" height="1.1" fill="#fff" stroke="none"/>
<rect x="368.2" y="394.3" width="1.4" height="1.1" fill="#fff" stroke="none"/>
<rect x="260.1" y="335.2" width="1.8" height="1.1" fill="#fff" stroke="none"/>
<rect x="297.1" y="357.4" width="1.4" height="1.1" fill="#fff" stroke="none"/>
<rect x="224.5" y="312.5" width="1.0" height="1.1" fill="#fff" stroke="none"/>
<rect x="216.6" y="308.0" width="1.0" height="1.1" fill="#fff" stroke="none"/>
<rect x="284.9" y="342.6" width="1.0" height="1.1" fill="#fff" stroke="none"/>
<rect x="366.5" y="394.9" width="1.4" height="1.1" fill="#fff" stroke="none"/>
<rect x="318.7" y="368.3" width="1.4" height="1.1" fill="#fff" stroke="none"/>
<rect x="254.4" y="330.1" width="1.0" height="1.1" fill="#fff" stroke="none"/>
<rect x="228.2" y="311.1" width="1.8" height="1.1" fill="#fff" stroke="none"/>
<rect x="365.0" y="392.5" width="1.4" height="1.1" fill="#fff" stroke="none"/>
<rect x="346.9" y="386.0" width="1.4" height="1.1" fill="#fff" stroke="none"/>
<rect x="254.0" y="326.5" width="1.8" height="1.1" fill="#fff" stroke="none"/>
<rect x="268.5" y="334.9" width="1.4" height="1.1" fill="#fff" stroke="none"/>
<rect x="322.0" y="367.2" width="1.4" height="1.1" fill="#fff" stroke="none"/>
<rect x="268.3" y="335.5" width="1.4" height="1.1" fill="#fff" stroke="none"/>
<rect x="342.2" y="382.5" width="1.8" height="1.1" fill="#fff" stroke="none"/>
<rect x="327.5" y="367.8" width="1.4" height="1.1" fill="#fff" stroke="none"/>
<rect x="314.1" y="363.3" width="1.0" height="1.1" fill="#fff" stroke="none"/>
<rect x="286.8" y="345.7" width="1.4" height="1.1" fill="#fff" stroke="none"/>
<rect x="316.9" y="366.0" width="1.8" height="1.1" fill="#fff" stroke="none"/>
<rect x="315.2" y="362.0" width="1.4" height="1.1" fill="#fff" stroke="none"/>
<rect x="251.2" y="328.8" width="1.4" height="1.1" fill="#fff" stroke="none"/>
<rect x="267.0" y="333.6" width="1.8" height="1.1" fill="#fff" stroke="none"/>
<rect x="280.0" y="345.4" width="1.4" height="1.1" fill="#fff" stroke="none"/>
<rect x="292.3" y="351.1" width="1.0" height="1.1" fill="#fff" stroke="none"/>
<rect x="239.1" y="321.6" width="1.4" height="1.1" fill="#fff" stroke="none"/>
<rect x="250.8" y="330.9" width="1.8" height="1.1" fill="#fff" stroke="none"/>
<rect x="324.5" y="373.0" width="1.8" height="1.1" fill="#fff" stroke="none"/>
<rect x="294.8" y="348.9" width="1.4" height="1.1" fill="#fff" stroke="none"/>
<rect x="311.2" y="359.9" width="1.8" height="1.1" fill="#fff" stroke="none"/>
<rect x="255.2" y="325.3" width="1.0" height="1.1" fill="#fff" stroke="none"/>
<rect x="233.3" y="317.5" width="1.8" height="1.1" fill="#fff" stroke="none"/>
<rect x="238.9" y="317.9" width="1.0" height="1.1" fill="#fff" stroke="none"/>
<rect x="307.3" y="364.2" width="1.4" height="1.1" fill="#fff" stroke="none"/>
<rect x="365.1" y="396.7" width="1.0" height="1.1" fill="#fff" stroke="none"/>
<rect x="228.9" y="310.3" width="1.4" height="1.1" fill="#fff" stroke="none"/>
<rect x="236.0" y="322.7" width="1.4" height="1.1" fill="#fff" stroke="none"/>
<rect x="266.0" y="334.6" width="1.0" height="1.1" fill="#fff" stroke="none"/>
<rect x="302.1" y="359.3" width="1.4" height="1.1" fill="#fff" stroke="none"/>
<rect x="207.1" y="302.6" width="1.4" height="1.1" fill="#fff" stroke="none"/>
<rect x="349.7" y="381.5" width="1.8" height="1.1" fill="#fff" stroke="none"/>
<rect x="342.3" y="381.6" width="1.0" height="1.1" fill="#fff" stroke="none"/>
<rect x="295.9" y="355.2" width="1.4" height="1.1" fill="#fff" stroke="none"/>
<rect x="295.4" y="354.6" width="1.8" height="1.1" fill="#fff" stroke="none"/>
<rect x="254.4" y="330.6" width="1.0" height="1.1" fill="#fff" stroke="none"/>
<rect x="278.1" y="340.3" width="1.8" height="1.1" fill="#fff" stroke="none"/>
<rect x="295.2" y="353.3" width="1.0" height="1.1" fill="#fff" stroke="none"/>
<rect x="305.2" y="358.3" width="1.0" height="1.1" fill="#fff" stroke="none"/>
<rect x="366.2" y="393.4" width="1.4" height="1.1" fill="#fff" stroke="none"/>
<rect x="342.6" y="379.2" width="1.4" height="1.1" fill="#fff" stroke="none"/>
<rect x="225.7" y="312.0" width="1.8" height="1.1" fill="#fff" stroke="none"/>
<rect x="294.4" y="354.1" width="1.8" height="1.1" fill="#fff" stroke="none"/>
<rect x="268.4" y="338.0" width="1.0" height="1.1" fill="#fff" stroke="none"/>
<rect x="287.9" y="349.0" width="1.8" height="1.1" fill="#fff" stroke="none"/>
<rect x="272.7" y="335.8" width="1.0" height="1.1" fill="#fff" stroke="none"/>
<rect x="303.1" y="359.8" width="1.4" height="1.1" fill="#fff" stroke="none"/>
<rect x="288.0" y="349.6" width="1.4" height="1.1" fill="#fff" stroke="none"/>
<rect x="360.4" y="392.7" width="1.4" height="1.1" fill="#fff" stroke="none"/>
<rect x="227.7" y="318.0" width="1.8" height="1.1" fill="#fff" stroke="none"/>
<rect x="308.6" y="361.3" width="1.4" height="1.1" fill="#fff" stroke="none"/>
<rect x="211.6" y="307.6" width="1.4" height="1.1" fill="#fff" stroke="none"/>
<rect x="210.0" y="303.1" width="1.4" height="1.1" fill="#fff" stroke="none"/>
<rect x="247.1" y="325.3" width="1.0" height="1.1" fill="#fff" stroke="none"/>
<rect x="246.1" y="326.5" width="1.0" height="1.1" fill="#fff" stroke="none"/>
<rect x="323.8" y="371.6" width="1.4" height="1.1" fill="#fff" stroke="none"/>
<rect x="306.6" y="359.9" width="1.8" height="1.1" fill="#fff" stroke="none"/>
<rect x="351.0" y="382.1" width="1.0" height="1.1" fill="#fff" stroke="none"/>
<rect x="207.7" y="305.4" width="1.4" height="1.1" fill="#fff" stroke="none"/>
<rect x="293.5" y="353.5" width="1.4" height="1.1" fill="#fff" stroke="none"/>
<rect x="323.6" y="373.8" width="1.4" height="1.1" fill="#fff" stroke="none"/>
<rect x="268.2" y="335.1" width="1.8" height="1.1" fill="#fff" stroke="none"/>
<rect x="225.8" y="317.0" width="1.8" height="1.1" fill="#fff" stroke="none"/>
<rect x="284.8" y="343.2" width="1.8" height="1.1" fill="#fff" stroke="none"/>
<rect x="293.3" y="356.2" width="1.4" height="1.1" fill="#fff" stroke="none"/>
<rect x="305.9" y="357.6" width="1.8" height="1.1" fill="#fff" stroke="none"/>
<rect x="315.9" y="361.9" width="1.4" height="1.1" fill="#fff" stroke="none"/>
<rect x="286.4" y="346.3" width="1.8" height="1.1" fill="#fff" stroke="none"/>
<rect x="238.3" y="321.7" width="1.0" height="1.1" fill="#fff" stroke="none"/>
<rect x="253.7" y="333.3" width="1.4" height="1.1" fill="#fff" stroke="none"/>
<rect x="303.6" y="356.6" width="1.4" height="1.1" fill="#fff" stroke="none"/>
<rect x="353.7" y="390.2" width="1.4" height="1.1" fill="#fff" stroke="none"/>
<rect x="323.7" y="366.1" width="1.4" height="1.1" fill="#fff" stroke="none"/>
<rect x="294.8" y="353.5" width="1.8" height="1.1" fill="#fff" stroke="none"/>
<rect x="337.0" y="381.2" width="1.0" height="1.1" fill="#fff" stroke="none"/>
<rect x="248.3" y="329.4" width="1.0" height="1.1" fill="#fff" stroke="none"/>
<rect x="312.6" y="367.4" width="1.8" height="1.1" fill="#fff" stroke="none"/>
<rect x="274.7" y="344.9" width="1.4" height="1.1" fill="#fff" stroke="none"/>
<rect x="318.9" y="370.8" width="1.0" height="1.1" fill="#fff" stroke="none"/>
<rect x="244.4" y="322.1" width="1.0" height="1.1" fill="#fff" stroke="none"/>
<rect x="321.3" y="371.5" width="1.4" height="1.1" fill="#fff" stroke="none"/>
<rect x="322.3" y="369.3" width="1.0" height="1.1" fill="#fff" stroke="none"/>
<rect x="306.6" y="360.4" width="1.0" height="1.1" fill="#fff" stroke="none"/>
<rect x="216.6" y="309.8" width="1.8" height="1.1" fill="#fff" stroke="none"/>
<rect x="224.4" y="312.9" width="1.0" height="1.1" fill="#fff" stroke="none"/>
<rect x="253.7" y="328.3" width="1.0" height="1.1" fill="#fff" stroke="none"/>
<rect x="331.3" y="370.7" width="1.0" height="1.1" fill="#fff" stroke="none"/>
<rect x="206.4" y="305.0" width="1.8" height="1.1" fill="#fff" stroke="none"/>
<rect x="305.4" y="359.1" width="1.8" height="1.1" fill="#fff" stroke="none"/>
<rect x="265.6" y="339.7" width="1.8" height="1.1" fill="#fff" stroke="none"/>
<rect x="256.1" y="329.7" width="1.8" height="1.1" fill="#fff" stroke="none"/>
<rect x="292.9" y="348.0" width="1.8" height="1.1" fill="#fff" stroke="none"/>
<rect x="295.4" y="355.6" width="1.0" height="1.1" fill="#fff" stroke="none"/>
<rect x="295.9" y="355.6" width="1.4" height="1.1" fill="#fff" stroke="none"/>
<rect x="289.4" y="352.9" width="1.0" height="1.1" fill="#fff" stroke="none"/>
<rect x="348.1" y="384.2" width="1.4" height="1.1" fill="#fff" stroke="none"/>
<rect x="238.3" y="318.0" width="1.8" height="1.1" fill="#fff" stroke="none"/>
<rect x="263.8" y="334.1" width="1.0" height="1.1" fill="#fff" stroke="none"/>
<rect x="219.9" y="312.5" width="1.8" height="1.1" fill="#fff" stroke="none"/>
<rect x="280.8" y="345.6" width="1.4" height="1.1" fill="#fff" stroke="none"/>
<rect x="284.8" y="348.5" width="1.8" height="1.1" fill="#fff" stroke="none"/>
<rect x="214.0" y="303.7" width="1.0" height="1.1" fill="#fff" stroke="none"/>
<rect x="349.0" y="380.4" width="1.4" height="1.1" fill="#fff" stroke="none"/>
<rect x="316.8" y="368.1" width="1.0" height="1.1" fill="#fff" stroke="none"/>
<rect x="224.1" y="308.0" width="1.4" height="1.1" fill="#fff" stroke="none"/>
<rect x="339.0" y="381.7" width="1.8" height="1.1" fill="#fff" stroke="none"/>
<rect x="271.2" y="336.1" width="1.4" height="1.1" fill="#fff" stroke="none"/>
<rect x="262.7" y="333.1" width="1.4" height="1.1" fill="#fff" stroke="none"/>
<rect x="336.6" y="378.2" width="1.8" height="1.1" fill="#fff" stroke="none"/>
<rect x="344.2" y="380.2" width="1.8" height="1.1" fill="#fff" stroke="none"/>
<rect x="280.7" y="341.5" width="1.8" height="1.1" fill="#fff" stroke="none"/>
<rect x="216.9" y="303.1" width="1.0" height="1.1" fill="#fff" stroke="none"/>
<rect x="327.6" y="372.8" width="1.0" height="1.1" fill="#fff" stroke="none"/>
<rect x="211.5" y="307.1" width="1.0" height="1.1" fill="#fff" stroke="none"/>
<rect x="216.7" y="303.9" width="1.4" height="1.1" fill="#fff" stroke="none"/>
<rect x="314.4" y="365.6" width="1.4" height="1.1" fill="#fff" stroke="none"/>
<rect x="287.0" y="344.8" width="1.8" height="1.1" fill="#fff" stroke="none"/>
<rect x="356.7" y="390.4" width="1.4" height="1.1" fill="#fff" stroke="none"/>
<rect x="221.5" y="313.2" width="1.0" height="1.1" fill="#fff" stroke="none"/>
<rect x="221.7" y="307.0" width="1.4" height="1.1" fill="#fff" stroke="none"/>
<polygon points="201.0,302.0 206.5,298.5 209.0,301.0 204.0,304.0" fill="#fff" stroke="none" stroke-width="0.00"/>
<line x1="292.3" y1="346" x2="292.3" y2="356" stroke="#fff" stroke-width="1.6"/>
<polygon points="196.0,466.8 196.0,302.2 207.3,294.0 397.9,404.4 398.2,568.4 386.6,574.5 196.0,466.8" stroke-width="2.42" fill="none"/>
<line x1="196.0" y1="302.2" x2="386.6" y2="411.5" stroke-width="2.30"/>
<line x1="386.6" y1="411.5" x2="386.6" y2="574.5" stroke-width="2.30"/>
<polygon points="201.3,312.4 380.7,415.6 380.6,564.2 201.9,462.5 201.3,312.4" stroke-width="2.18" fill="none"/>
<polyline points="207.3,459.5 207.3,317.0 300.0,368.5" stroke-width="1.84" fill="none"/>
<polyline points="203.0,462.5 207.5,459.5" stroke-width="1.38" fill="none"/>
<ellipse cx="209" cy="463" rx="3.2" ry="2" fill="none" stroke-width="1.3"/>
<ellipse cx="294.5" cy="512.5" rx="3.2" ry="2" fill="none" stroke-width="1.3" transform="rotate(28 294.5 512.5)"/>
<polygon points="389.5,415.0 396.8,411.2 396.8,420.0 389.5,423.5" fill="#000" stroke="#000" stroke-width="0.92"/>
<polygon points="389.5,427.0 395.8,424.0 395.8,432.0 389.5,435.0" fill="#000" stroke="#000" stroke-width="0.92"/>
<rect x="391.5" y="418" width="1.2" height="3" fill="#fff" stroke="none"/>
<rect x="391.5" y="429" width="1.2" height="3" fill="#fff" stroke="none"/>
<polygon points="97.5,381.0 100.5,377.7 277.6,479.5 279.0,490.8 97.0,384.8" fill="#fff" stroke="none" stroke-width="0.00"/>
<line x1="100.5" y1="377.7" x2="277.6" y2="479.6" stroke-width="2.07"/>
<line x1="97.7" y1="381.2" x2="277.6" y2="484.8" stroke-width="1.84"/>
<line x1="97.0" y1="384.8" x2="279.5" y2="489.6" stroke-width="2.18"/>
<polygon points="277.6,479.5 291.0,472.5 294.6,474.8 294.6,483.8 280.5,491.0 277.6,489.5" fill="#fff" stroke="#000" stroke-width="2.07"/>
<line x1="277.6" y1="479.5" x2="281.0" y2="481.5" stroke-width="1.72"/>
<line x1="281.0" y1="481.5" x2="294.6" y2="474.8" stroke-width="1.72"/>
<line x1="281.0" y1="481.5" x2="281.0" y2="490.5" stroke-width="1.72"/>
<polygon points="92.1,376.3 106.3,367.1 109.6,368.3 109.6,376.5 107.7,378.4 97.8,384.5 92.1,384.5" fill="#000" stroke="#000" stroke-width="0.69"/>
<polygon points="102.2,375.3 107.9,371.3 107.9,376.2 104.0,377.0" fill="#fff" stroke="none" stroke-width="0.00"/>
<text x="279.8" y="66.6" font-size="27.6" font-weight="bold" textLength="74.2" lengthAdjust="spacingAndGlyphs" stroke="#000" stroke-width="1.4">UPPER</text>
<text x="360.90000000000003" y="66.6" font-size="27.6" font-weight="bold" textLength="71.4" lengthAdjust="spacingAndGlyphs" stroke="#000" stroke-width="1.4">OVEN</text>
<text x="441.1" y="66.6" font-size="27.6" font-weight="bold" textLength="72.8" lengthAdjust="spacingAndGlyphs" stroke="#000" stroke-width="1.4">DOOR</text>
<text x="522.3000000000001" y="66.6" font-size="27.6" font-weight="bold" textLength="69.7" lengthAdjust="spacingAndGlyphs" stroke="#000" stroke-width="1.4">PARTS</text>
<text x="358.8" y="84.6" font-size="17.8" font-weight="bold" textLength="17.2" lengthAdjust="spacingAndGlyphs" stroke="#000" stroke-width="1.1">For</text>
<text x="382.0" y="84.6" font-size="17.8" font-weight="bold" textLength="41.1" lengthAdjust="spacingAndGlyphs" stroke="#000" stroke-width="1.1">Model:</text>
<text x="425.40000000000003" y="84.6" font-size="17.8" font-weight="bold" textLength="87.3" lengthAdjust="spacingAndGlyphs" stroke="#000" stroke-width="1.1">KEBI241WBL1</text>
<text x="230.5" y="1026" font-size="9.3" font-weight="bold" textLength="403.5" lengthAdjust="spacingAndGlyphs" stroke="#000" stroke-width="0.35">FOR ORDERING INFORMATION REFER TO PARTS PRICE LIST</text>
<text x="433.6" y="1052" font-size="15.2" font-weight="bold" textLength="7.6" lengthAdjust="spacingAndGlyphs"  stroke="none">8</text>
<text x="77.5" y="1047.9" font-size="16.3" font-weight="normal" textLength="53.5" lengthAdjust="spacingAndGlyphs"  stroke="none">4174106</text>
<path d="M480.4,94.9 H483.1 V109.9 H480.4 Z M478.0,94.9 H480.9 V97.0 H478.0 Z" fill="#000" stroke="none"/>
<text x="476.3" y="128.0" font-size="20.8" textLength="9.5" lengthAdjust="spacingAndGlyphs" stroke="#000" stroke-width="0.55">2</text>
<text x="476.3" y="146.9" font-size="21.2" textLength="9.5" lengthAdjust="spacingAndGlyphs" stroke="#000" stroke-width="0.55">3</text>
<text x="398.4" y="136.7" font-size="20.4" textLength="11.4" lengthAdjust="spacingAndGlyphs" stroke="#000" stroke-width="0.55">4</text>
<path d="M404.5,168.0 H407.2 V182.8 H404.5 Z M401.8,168.0 H405.0 V170.1 H401.8 Z" fill="#000" stroke="none"/>
<text x="409.4" y="182.8" font-size="20.7" textLength="9.4" lengthAdjust="spacingAndGlyphs" stroke="#000" stroke-width="0.55">3</text>
<text x="256.5" y="206.9" font-size="20.9" textLength="11.2" lengthAdjust="spacingAndGlyphs" stroke="#000" stroke-width="0.55">6</text>
<text x="257.3" y="226.0" font-size="20.9" textLength="10.4" lengthAdjust="spacingAndGlyphs" stroke="#000" stroke-width="0.55">7</text>
<text x="308.7" y="263.0" font-size="20.9" textLength="10.3" lengthAdjust="spacingAndGlyphs" stroke="#000" stroke-width="0.55">8</text>
<text x="88.4" y="320.5" font-size="20.8" textLength="11.4" lengthAdjust="spacingAndGlyphs" stroke="#000" stroke-width="0.55">9</text>
<path d="M87.2,445.1 H89.9 V459.8 H87.2 Z M85.0,445.1 H87.7 V447.2 H85.0 Z" fill="#000" stroke="none"/>
<text x="91.4" y="459.8" font-size="20.5" textLength="11.4" lengthAdjust="spacingAndGlyphs" stroke="#000" stroke-width="0.55">0</text>
<path d="M708.1,414.5 H710.8 V430.0 H708.1 Z M706.0,414.5 H708.6 V416.6 H706.0 Z" fill="#000" stroke="none"/>
<text x="711.4" y="430.0" font-size="21.6" textLength="11.2" lengthAdjust="spacingAndGlyphs" stroke="#000" stroke-width="0.55">4</text>
<text x="599.5" y="469.9" font-size="20.7" textLength="10.4" lengthAdjust="spacingAndGlyphs" stroke="#000" stroke-width="0.55">5</text>
<path d="M599.1,477.1 H601.8 V491.9 H599.1 Z M597.0,477.1 H599.6 V479.2 H597.0 Z" fill="#000" stroke="none"/>
<text x="603.3" y="491.9" font-size="20.7" textLength="10.6" lengthAdjust="spacingAndGlyphs" stroke="#000" stroke-width="0.55">2</text>
<line x1="485.5" y1="104.6" x2="565.4" y2="131.5" stroke-width="1.90"/>
<polygon points="578.7,136.0 563.6,134.0 566.4,131.8 565.4,128.5" fill="#000" stroke="none"/>
<line x1="489.0" y1="125.4" x2="541.0" y2="159.1" stroke-width="1.90"/>
<polygon points="552.7,166.7 538.5,161.0 541.8,159.6 541.7,156.1" fill="#000" stroke="none"/>
<line x1="487.2" y1="145.4" x2="511.0" y2="169.3" stroke-width="1.90"/>
<polygon points="520.9,179.2 508.3,170.6 511.7,170.0 512.4,166.5" fill="#000" stroke="none"/>
<line x1="412.4" y1="133.6" x2="448.6" y2="153.9" stroke-width="1.90"/>
<polygon points="460.8,160.8 446.3,156.0 449.5,154.4 449.1,150.9" fill="#000" stroke="none"/>
<line x1="419.5" y1="179.6" x2="459.1" y2="215.6" stroke-width="1.90"/>
<polygon points="469.5,225.0 456.4,217.1 459.9,216.3 460.3,212.8" fill="#000" stroke="none"/>
<line x1="270.5" y1="204.8" x2="328.5" y2="227.7" stroke-width="1.90"/>
<polygon points="341.5,232.8 326.5,230.0 329.4,228.0 328.6,224.6" fill="#000" stroke="none"/>
<line x1="267.7" y1="227.0" x2="282.7" y2="253.7" stroke-width="1.90"/>
<polygon points="289.5,265.9 279.6,254.2 283.1,254.6 284.7,251.4" fill="#000" stroke="none"/>
<line x1="320.9" y1="260.9" x2="350.3" y2="279.1" stroke-width="1.90"/>
<polygon points="362.2,286.5 347.9,281.1 351.2,279.7 351.0,276.1" fill="#000" stroke="none"/>
<line x1="102.2" y1="315.6" x2="180.1" y2="333.1" stroke-width="1.90"/>
<polygon points="193.8,336.2 178.5,335.7 181.1,333.3 179.8,330.1" fill="#000" stroke="none"/>
<line x1="105.5" y1="447.7" x2="141.4" y2="427.5" stroke-width="1.90"/>
<polygon points="153.6,420.6 142.0,430.5 142.3,427.0 139.1,425.4" fill="#000" stroke="none"/>
<line x1="704.3" y1="419.3" x2="654.6" y2="398.2" stroke-width="1.90"/>
<polygon points="641.7,392.7 656.6,395.9 653.7,397.8 654.4,401.2" fill="#000" stroke="none"/>
<line x1="598.2" y1="457.5" x2="564.2" y2="436.1" stroke-width="1.90"/>
<polygon points="552.3,428.7 566.5,434.2 563.3,435.6 563.5,439.1" fill="#000" stroke="none"/>
<line x1="596.0" y1="483.6" x2="536.3" y2="473.0" stroke-width="1.90"/>
<polygon points="522.5,470.5 537.8,470.3 535.3,472.8 536.8,476.0" fill="#000" stroke="none"/>
<rect x="280.0" y="987.8" width="1.2" height="1.2" fill="#000" stroke="none"/>
<rect x="429.8" y="974.8" width="1.2" height="1.2" fill="#000" stroke="none"/>
<rect x="767.5" y="1066.5" width="1.2" height="1.2" fill="#000" stroke="none"/>
</svg>
</body></html>
